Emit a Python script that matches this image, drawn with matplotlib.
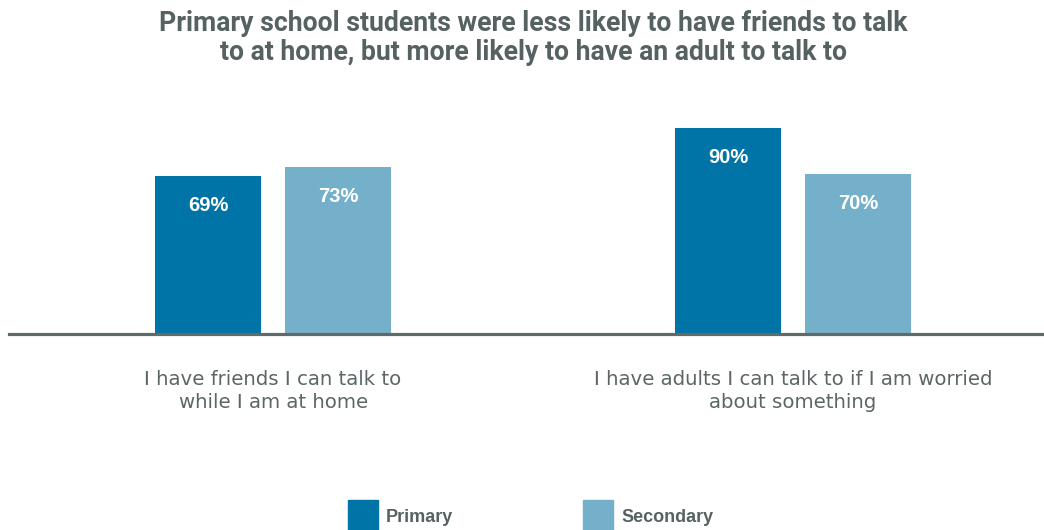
import matplotlib
matplotlib.use("Agg")
import matplotlib.pyplot as plt
import numpy as np
from matplotlib.patches import Rectangle

categories = ["I have friends I can talk to\nwhile I am at home",
              "I have adults I can talk to if I am worried\nabout something"]
series = ["Primary", "Secondary"]
primary = [69, 90]
secondary = [73, 70]

colors = ["#0074a7", "#75b0ca"]
text_grey = "#566161"

plt.rcParams['font.family'] = ["Roboto", "DejaVu Sans"]

W, H = 1044, 530
fig = plt.figure(figsize=(W / 100, H / 100), dpi=100)

# axes: left edge 9px, baseline at 334px from top, 100% = 229px
ax = fig.add_axes([9 / W, (H - 334) / H, (W - 9) / W, 229 / H])
ax.set_xlim(-0.508, 1.483)
ax.set_ylim(0, 100)

x = np.arange(len(categories))
bw = 106 / 520
off = 65 / 520
for vals, dx, c in zip([primary, secondary], [-off, off], colors):
    bars = ax.bar(x + dx, vals, width=bw, color=c, zorder=2)
    for b, v in zip(bars, vals):
        ax.text(b.get_x() + b.get_width() / 2, v - 13, f"{v}%",
                ha="center", va="center", color="white",
                fontsize=14.5, fontweight="bold", family="Liberation Sans")

for s in ["top", "right", "left"]:
    ax.spines[s].set_visible(False)
ax.spines["bottom"].set_color("#5f6b6b")
ax.spines["bottom"].set_linewidth(2.3)
ax.set_yticks([])
ax.set_xticks(x)
ax.set_xticklabels(categories, fontsize=14.2, color="#5c6666",
                   linespacing=1.28, family="DejaVu Sans")
ax.tick_params(axis="x", length=0, pad=26)

fig.text(533 / W, 1 - 38 / H,
         "Primary school students were less likely to have friends to talk\n"
         "to at home, but more likely to have an adult to talk to",
         ha="center", va="center", fontsize=19.2, fontweight="bold",
         color=text_grey, linespacing=1.1)

# legend
for name, c, lx in zip(series, colors, [348, 583]):
    fig.add_artist(Rectangle((lx / W, 0), 30 / W, 30 / H,
                             transform=fig.transFigure, color=c))
    fig.text((lx + 38) / W, 13 / H, name, ha="left", va="center",
             fontsize=13, fontweight="bold", color=text_grey,
             family="Liberation Sans")

fig.savefig("out.png", dpi=100)
